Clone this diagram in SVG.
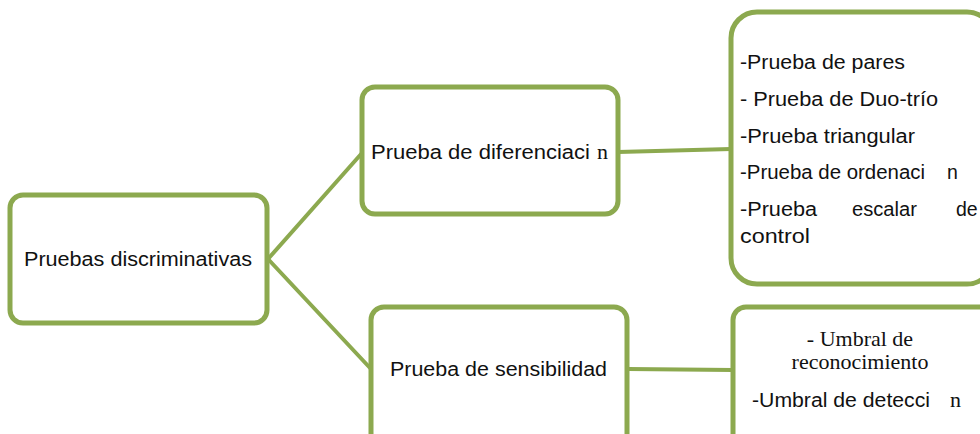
<svg xmlns="http://www.w3.org/2000/svg" width="980" height="434" viewBox="0 0 980 434">
<style>
.box{fill:#fff;stroke:#8CA94F;stroke-width:5}
.con{stroke:#8CA94F;stroke-width:4;fill:none;stroke-linecap:round}
.t{font-family:"Liberation Sans",Arial,sans-serif;font-size:19.5px;fill:#111}
.s{font-family:"Liberation Serif",serif;font-size:22px;fill:#111}
</style>
<rect width="980" height="434" fill="#fff"/>
<g id="connectors">
<line class="con" x1="268" y1="259" x2="362" y2="153"/>
<line class="con" x1="268" y1="259" x2="371" y2="369"/>
<line class="con" x1="618" y1="152" x2="731" y2="149"/>
<line class="con" x1="628" y1="369" x2="733" y2="370"/>
</g>
<g id="n1">
<rect class="box" x="10" y="195" width="257" height="128" rx="13"/>
<text class="t" x="24" y="266" textLength="228" lengthAdjust="spacingAndGlyphs">Pruebas discriminativas</text>
</g>
<g id="n2">
<rect class="box" x="362" y="87" width="256" height="127" rx="13"/>
<text class="t" x="371" y="159" textLength="219" lengthAdjust="spacingAndGlyphs">Prueba de diferenciaci</text>
<text class="s" x="597" y="159">n</text>
</g>
<g id="n3">
<rect class="box" x="731" y="12" width="262" height="272" rx="26"/>
<text class="t" x="740" y="69" textLength="165" lengthAdjust="spacingAndGlyphs">-Prueba de pares</text>
<text class="t" x="740" y="106" textLength="198" lengthAdjust="spacingAndGlyphs">- Prueba de Duo-trío</text>
<text class="t" x="740" y="143" textLength="175" lengthAdjust="spacingAndGlyphs">-Prueba triangular</text>
<text class="t" x="740" y="179" textLength="185" lengthAdjust="spacingAndGlyphs">-Prueba de ordenaci</text>
<text class="t" x="947" y="179">n</text>
<text class="t" x="740" y="216" textLength="77" lengthAdjust="spacingAndGlyphs">-Prueba</text>
<text class="t" x="852" y="216" textLength="65" lengthAdjust="spacingAndGlyphs">escalar</text>
<text class="t" x="956" y="216">de</text>
<text class="t" x="740" y="243" textLength="70" lengthAdjust="spacingAndGlyphs">control</text>
</g>
<g id="n4">
<rect class="box" x="371" y="307" width="256" height="140" rx="13"/>
<text class="t" x="390" y="376" textLength="217" lengthAdjust="spacingAndGlyphs">Prueba de sensibilidad</text>
</g>
<g id="n5">
<rect class="box" x="733" y="307" width="260" height="140" rx="13"/>
<text class="s" x="860" y="346" text-anchor="middle" font-size="20">- Umbral de</text>
<text class="s" x="860" y="369" text-anchor="middle" font-size="20">reconocimiento</text>
<text class="t" x="752" y="407" textLength="178" lengthAdjust="spacingAndGlyphs">-Umbral de detecci</text>
<text class="s" x="950" y="407">n</text>
</g>
</svg>
